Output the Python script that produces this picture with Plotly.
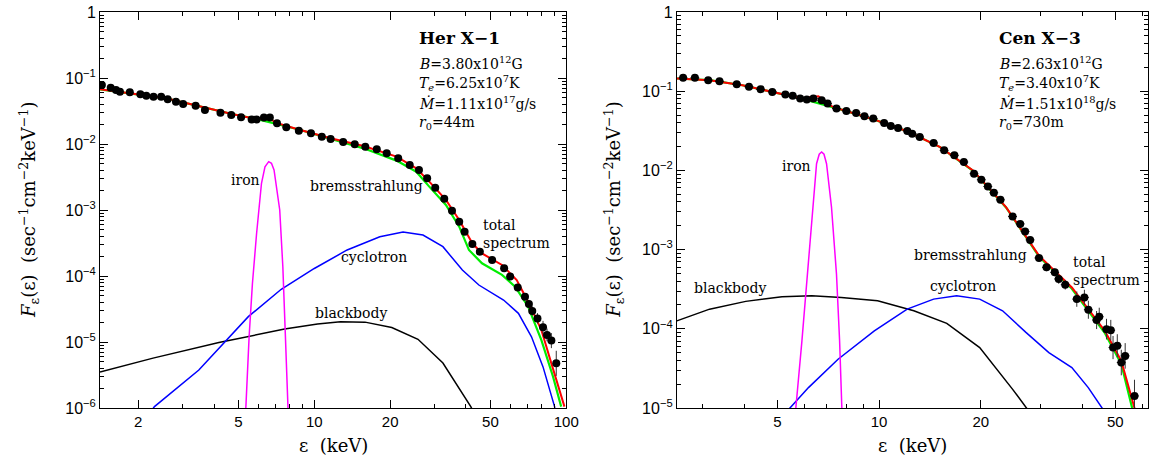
import numpy as np
import plotly.graph_objects as go

# ---------------- Her X-1 (left panel) ----------------
her_data_E = [1.434, 1.555, 1.632, 1.692, 1.852, 2.039, 2.153, 2.30, 2.466, 2.618, 2.823, 3.015, 3.38, 3.68,
              4.24, 4.68, 5.12, 5.64, 5.90, 6.31, 6.66, 7.11, 7.74, 8.68, 9.70, 10.71, 11.61, 13.02, 14.47,
              15.94, 17.70, 19.38, 21.53, 23.92, 26.03, 28.05, 30.2, 32.8, 35.2, 37.6, 39.5, 42.4, 45.4,
              50.8, 56.7, 59.9, 64.2, 68.6, 71.1, 73.3, 76.9, 80.9, 83.9, 87.3, 91.3]
her_data_F = [0.0783, 0.0714, 0.0658, 0.0621, 0.0607, 0.0566, 0.054, 0.0522, 0.0522, 0.0475, 0.0438, 0.0404,
              0.0381, 0.0327, 0.0298, 0.0275, 0.0254, 0.0236, 0.0236, 0.0251, 0.0251, 0.0206, 0.0179, 0.0159,
              0.0145, 0.0129, 0.0119, 0.0107, 0.00988, 0.00911, 0.0083, 0.00722, 0.00607, 0.00481, 0.00404,
              0.00302, 0.00218, 0.00148, 0.000977, 0.000666, 0.00047, 0.000305, 0.000234, 0.000175, 0.000131,
              9.8e-5, 6.7e-5, 4.86e-5, 3.77e-5, 2.95e-5, 2.28e-5, 1.67e-5, 1.28e-5, 1.05e-5, 4.75e-6]
her_data_err = [0] * 45 + [0.08, 0.1, 0.12, 0.15, 0.18, 0.2, 0.25, 0.25, 0.3, 0.55]

her_total_E = [1.41, 2.58, 4.71, 5.99, 6.2, 6.45, 6.7, 6.97, 8.59, 11.6, 15.7, 21.2, 25.4, 28.6, 33.3, 37.6,
               42.4, 46.3, 55.6, 63.6, 70.6, 79.7, 87.3, 98.4]
her_total_F = [0.0673, 0.0492, 0.0285, 0.0236, 0.0248, 0.0258, 0.0245, 0.0212, 0.0167, 0.0122, 0.00933,
               0.00643, 0.00428, 0.00269, 0.00142, 0.000705, 0.000313, 0.00022, 0.000147, 8.7e-5, 4.08e-5,
               1.52e-5, 4.75e-6, 1.05e-6]

her_brems_E = [1.41, 2.58, 4.71, 5.99, 8.59, 11.6, 15.7, 21.2, 25.4, 28.6, 33.3, 37.6, 41.1, 46.3, 55.6,
               62.7, 70.6, 79.7, 88.6, 95.5]
her_brems_F = [0.0673, 0.0492, 0.0285, 0.0236, 0.0167, 0.0121, 0.0086, 0.0056, 0.0038, 0.00226, 0.00119,
               0.000559, 0.000248, 0.000156, 0.000104, 6.9e-5, 3.43e-5, 1.07e-5, 3.0e-6, 1.05e-6]

her_cyc_E = [2.2, 2.32, 3.48, 5.47, 7.39, 10.0, 13.5, 18.2, 22.5, 27.0, 32.4, 38.7, 45.0, 56.4, 64.6, 72.8,
             80.9, 89.9, 92.0]
her_cyc_F = [8e-7, 1.05e-6, 3.77e-6, 2.42e-5, 6.3e-5, 1.3e-4, 2.48e-4, 3.94e-4, 4.64e-4, 4.18e-4, 2.78e-4,
             1.23e-4, 7.3e-5, 4.33e-5, 2.72e-5, 1.2e-5, 4.2e-6, 1.05e-6, 6e-7]

her_bb_E = [1.41, 2.29, 4.18, 7.62, 10.3, 12.7, 15.9, 20.3, 25.8, 32.4, 41.8, 45.0]
her_bb_F = [3.5e-6, 5.7e-6, 9.8e-6, 1.57e-5, 1.87e-5, 2.03e-5, 2.0e-5, 1.66e-5, 1.1e-5, 4.8e-6, 1.05e-6, 6e-7]

her_fe_E = [5.30, 5.35, 5.51, 5.68, 5.90, 6.17, 6.37, 6.59, 6.76, 6.92, 7.29, 7.50, 7.67, 7.86, 7.90]
her_fe_F = [6e-7, 1.05e-6, 1.2e-5, 7.7e-5, 4.4e-4, 2.54e-3, 4.5e-3, 5.4e-3, 5.1e-3, 4.04e-3, 1e-3, 1.38e-4,
            1.36e-5, 1.05e-6, 6e-7]

# ---------------- Cen X-3 (right panel) ----------------
cen_data_E = [2.63, 2.85, 3.12, 3.37, 3.79, 4.12, 4.46, 4.83, 5.28, 5.55, 5.84, 6.11, 6.39, 6.76, 7.04, 7.48,
              8.00, 8.55, 9.05, 9.61, 10.35, 10.83, 11.38, 12.12, 12.53, 13.19, 14.50, 15.58, 16.70, 17.82,
              19.1, 20.07, 20.99, 21.86, 22.86, 24.84, 26.16, 27.05, 27.99, 29.73, 31.30, 33.11, 34.01, 35.56,
              38.47, 40.52, 41.63, 44.03, 44.83, 47.10, 48.5, 49.25, 50.7, 52.1, 53.5, 57.0]
cen_data_F = [0.1475, 0.1475, 0.1378, 0.1338, 0.1226, 0.1135, 0.106, 0.098, 0.0907, 0.0873, 0.0807, 0.0784,
              0.0807, 0.0769, 0.0698, 0.0603, 0.0564, 0.0532, 0.0483, 0.0451, 0.0397, 0.0364, 0.0344, 0.0315,
              0.0291, 0.0264, 0.0222, 0.0179, 0.0155, 0.01275, 0.00908, 0.00762, 0.00627, 0.00522, 0.00425,
              0.00262, 0.00211, 0.00169, 0.001326, 0.000784, 0.000598, 0.000516, 0.000426, 0.00036, 0.000237,
              0.000249, 0.000174, 0.000129, 0.000142, 9.9e-5, 9.6e-5, 5.8e-5, 6.1e-5, 3.75e-5, 4.55e-5, 1.42e-5]
cen_data_err = [0] * 39 + [0.1, 0.12, 0.12, 0.15, 0.15, 0.25, 0.25, 0.3, 0.3, 0.3, 0.35, 0.35, 0.4, 0.4,
                           0.45, 0.45, 0.6]

cen_total_E = [2.52, 3.15, 3.94, 4.94, 5.91, 6.32, 6.61, 6.91, 7.23, 7.73, 9.68, 12.11, 15.16, 18.97, 23.75,
               29.73, 37.2, 46.6, 52.1, 57.0, 58.0]
cen_total_F = [0.1446, 0.1378, 0.119, 0.0953, 0.0807, 0.0848, 0.0865, 0.0754, 0.0646, 0.0586, 0.0438, 0.0312,
               0.0197, 0.01, 0.00343, 0.00084, 0.000333, 9.4e-5, 3.94e-5, 1.0e-5, 7e-6]

cen_brems_E = [2.52, 3.15, 3.94, 4.94, 5.91, 7.73, 9.68, 12.11, 15.16, 18.97, 23.75, 29.73, 37.2, 46.6, 52.1,
               56.1, 57.5]
cen_brems_F = [0.1446, 0.1378, 0.119, 0.0953, 0.0807, 0.0586, 0.0438, 0.0312, 0.0197, 0.0099, 0.0034, 0.00082,
               0.00032, 8.8e-5, 3.6e-5, 1.0e-5, 7e-6]

cen_cyc_E = [5.2, 5.40, 6.18, 7.56, 9.68, 12.11, 14.50, 16.96, 19.85, 23.2, 27.2, 31.8, 37.2, 41.6, 46.0, 47.0]
cen_cyc_F = [7e-6, 9.6e-6, 1.81e-5, 4.13e-5, 9.4e-5, 1.77e-4, 2.37e-4, 2.62e-4, 2.37e-4, 1.69e-4, 9.0e-5,
             5.0e-5, 3.24e-5, 1.81e-5, 9.6e-6, 7e-6]

cen_bb_E = [2.52, 3.15, 4.03, 5.16, 6.32, 7.73, 9.90, 12.67, 15.86, 19.85, 24.85, 27.5, 28.5]
cen_bb_F = [1.26e-4, 1.77e-4, 2.22e-4, 2.54e-4, 2.62e-4, 2.49e-4, 2.26e-4, 1.69e-4, 1.17e-4, 5.8e-5, 1.72e-5,
            9.6e-6, 7e-6]

cen_fe_E = [5.6, 5.67, 5.91, 6.11, 6.32, 6.53, 6.65, 6.76, 6.87, 6.99, 7.23, 7.48, 7.64, 7.73, 7.78]
cen_fe_F = [7e-6, 1.0e-5, 7.05e-5, 4.05e-4, 2.56e-3, 1.215e-2, 1.6e-2, 1.706e-2, 1.6e-2, 1.215e-2, 3.43e-3,
            4.92e-4, 7.05e-5, 1.0e-5, 7e-6]

# ---------------- tick labels ----------------
her_xticks = [2, 5, 10, 20, 50, 100]
her_xticktext = ["2", "5", "10", "20", "50", "100"]
her_xminor = [3, 4, 6, 7, 8, 9, 30, 40, 60, 70, 80, 90]
cen_xticks = [5, 10, 20, 50]
cen_xticktext = ["5", "10", "20", "50"]
cen_xminor = [3, 4, 6, 7, 8, 9, 30, 40, 60]
her_yticks = [1e-6, 1e-5, 1e-4, 1e-3, 1e-2, 1e-1, 1]
her_yticktext = ["10<sup>−6</sup>", "10<sup>−5</sup>", "10<sup>−4</sup>", "10<sup>−3</sup>",
                 "10<sup>−2</sup>", "10<sup>−1</sup>", "1"]
cen_yticks = [1e-5, 1e-4, 1e-3, 1e-2, 1e-1, 1]
cen_yticktext = ["10<sup>−5</sup>", "10<sup>−4</sup>", "10<sup>−3</sup>", "10<sup>−2</sup>",
                 "10<sup>−1</sup>", "1"]

her_info = ["<b>Her X−1</b>", "<i>B</i>=3.80x10<sup>12</sup>G", "<i>T<sub>e</sub></i>=6.25x10<sup>7</sup>K",
            "<i>Ṁ</i>=1.11x10<sup>17</sup>g/s", "<i>r</i><sub>0</sub>=44m"]
cen_info = ["<b>Cen X−3</b>", "<i>B</i>=2.63x10<sup>12</sup>G", "<i>T<sub>e</sub></i>=3.40x10<sup>7</sup>K",
            "<i>Ṁ</i>=1.51x10<sup>18</sup>g/s", "<i>r</i><sub>0</sub>=730m"]

# ---------------- figure ----------------
W, H = 1163, 462
ML, MR, MT, MB = 100, 2, 12, 54
SERIF = "DejaVu Serif"
SANS = "Liberation Sans"

fig = go.Figure()


def add_panel(sfx, bb, cyc, fe, brems, total, data, err):
    xa, ya = "x" + sfx, "y" + sfx
    fig.add_trace(go.Scatter(x=bb[0], y=bb[1], mode="lines", line=dict(color="black", width=1.5),
                             xaxis=xa, yaxis=ya, showlegend=False))
    fig.add_trace(go.Scatter(x=cyc[0], y=cyc[1], mode="lines", line=dict(color="#0000ff", width=1.5),
                             xaxis=xa, yaxis=ya, showlegend=False))
    fig.add_trace(go.Scatter(x=fe[0], y=fe[1], mode="lines", line=dict(color="#ff00ff", width=1.5),
                             xaxis=xa, yaxis=ya, showlegend=False))
    fig.add_trace(go.Scatter(x=brems[0], y=brems[1], mode="lines", line=dict(color="#00ee00", width=2.2),
                             xaxis=xa, yaxis=ya, showlegend=False))
    fig.add_trace(go.Scatter(x=total[0], y=total[1], mode="lines", line=dict(color="#ff0000", width=2),
                             xaxis=xa, yaxis=ya, showlegend=False))
    y = np.array(data[1])
    f = np.array(err, dtype=float)
    fig.add_trace(go.Scatter(
        x=data[0], y=data[1], mode="markers",
        marker=dict(color="black", size=8),
        error_y=dict(type="data", array=y * f, arrayminus=y * f / (1 + f), color="#333333",
                     thickness=1, width=0),
        error_x=dict(type="percent", value=3, color="black", thickness=1, width=0),
        xaxis=xa, yaxis=ya, showlegend=False))


add_panel("", (her_bb_E, her_bb_F), (her_cyc_E, her_cyc_F), (her_fe_E, her_fe_F),
          (her_brems_E, her_brems_F), (her_total_E, her_total_F), (her_data_E, her_data_F), her_data_err)
add_panel("2", (cen_bb_E, cen_bb_F), (cen_cyc_E, cen_cyc_F), (cen_fe_E, cen_fe_F),
          (cen_brems_E, cen_brems_F), (cen_total_E, cen_total_F), (cen_data_E, cen_data_F), cen_data_err)

pw = W - ML - MR
d1 = [0, 472 / pw]
d2 = [584 / pw, 1]

axis_common = dict(type="log", showline=True, linecolor="black", linewidth=1, mirror="allticks",
                   ticks="inside", ticklen=8, tickcolor="black", tickwidth=1, showgrid=False,
                   zeroline=False, tickmode="array")
xfont = dict(family=SANS, size=15, color="black")
yfont = dict(family=SANS, size=16, color="black")


def yminor(lo, hi):
    return [m * 10.0 ** k for k in range(lo, hi) for m in range(2, 10)]


fig.update_layout(
    width=W, height=H, autosize=False, margin=dict(l=ML, r=MR, t=MT, b=MB),
    paper_bgcolor="white", plot_bgcolor="white",
    xaxis=dict(axis_common, domain=d1, range=[np.log10(1.41), 2], tickvals=her_xticks, ticktext=her_xticktext,
               tickfont=xfont,
               minor=dict(tickmode="array", tickvals=her_xminor, ticks="inside", ticklen=4, tickcolor="black"),
               anchor="y"),
    yaxis=dict(axis_common, range=[-6, 0], tickvals=her_yticks, ticktext=her_yticktext, tickfont=yfont,
               minor=dict(tickmode="array", tickvals=yminor(-6, 0), ticks="inside", ticklen=4,
                          tickcolor="black"),
               anchor="x"),
    xaxis2=dict(axis_common, domain=d2, range=[np.log10(2.52), np.log10(62.5)], tickvals=cen_xticks,
                ticktext=cen_xticktext, tickfont=xfont,
                minor=dict(tickmode="array", tickvals=cen_xminor, ticks="inside", ticklen=4, tickcolor="black"),
                anchor="y2"),
    yaxis2=dict(axis_common, range=[-5, 0], tickvals=cen_yticks, ticktext=cen_yticktext, tickfont=yfont,
                minor=dict(tickmode="array", tickvals=yminor(-5, 0), ticks="inside", ticklen=4,
                           tickcolor="black"),
                anchor="x2"),
)

ann = []
lab_font = dict(family=SERIF, size=14, color="black")


def data_label(sfx, text, E, F, xanchor="center", align="center"):
    ann.append(dict(text=text, x=np.log10(E), y=np.log10(F), xref="x" + sfx, yref="y" + sfx,
                    showarrow=False, font=lab_font, xanchor=xanchor, yanchor="middle", align=align))


# left panel component labels
data_label("", "iron", 5.31, 2.85e-3)
data_label("", "bremsstrahlung", 16.1, 2.31e-3)
data_label("", "total<br>spectrum", 45.7, 4.3e-4, "left", "left")
data_label("", "cyclotron", 17.2, 1.92e-4)
data_label("", "blackbody", 14.0, 2.78e-5)
# right panel component labels
data_label("2", "iron", 5.68, 1.124e-2)
data_label("2", "bremsstrahlung", 18.6, 8.65e-4)
data_label("2", "total<br>spectrum", 36.97, 5.4e-4, "left", "left")
data_label("2", "cyclotron", 17.7, 3.43e-4)
data_label("2", "blackbody", 3.62, 3.24e-4)

info_y = [0.934, 0.871, 0.821, 0.770, 0.720]
for sfx, lines in (("", her_info), ("2", cen_info)):
    for i, (t, yy) in enumerate(zip(lines, info_y)):
        ann.append(dict(text=t, x=0.679, y=yy, xref="x" + sfx + " domain", yref="y" + sfx + " domain",
                        showarrow=False, xanchor="left", yanchor="middle",
                        font=dict(family=SERIF, size=17 if i == 0 else 14, color="black")))

ytitle = "<i>F</i><sub>ε</sub>(ε)\u00a0\u00a0(sec<sup>−1</sup>cm<sup>−2</sup>keV<sup>−1</sup>)"
for px in (28, 620):
    ann.append(dict(text=ytitle, x=(px - ML) / pw, y=0.5, xref="paper", yref="paper", textangle=-90,
                    showarrow=False, xanchor="center", yanchor="middle",
                    font=dict(family=SERIF, size=18, color="black")))
for sfx in ("", "2"):
    ann.append(dict(text="ε\u00a0\u00a0(keV)", x=0.5, y=-(445 - 408) / 396, xref="x" + sfx + " domain",
                    yref="paper", showarrow=False, xanchor="center", yanchor="middle",
                    font=dict(family=SERIF, size=18, color="black")))

fig.update_layout(annotations=ann)

post = ("document.documentElement.style.margin='0';document.documentElement.style.overflow='hidden';"
        "document.body.style.margin='0';document.body.style.overflow='hidden';"
        "var gd=document.getElementById('{plot_id}');"
        "Plotly.relayout(gd,{width:1163,height:462});")
fig.write_html("out.html", config={"displayModeBar": False, "responsive": False}, post_script=post)
